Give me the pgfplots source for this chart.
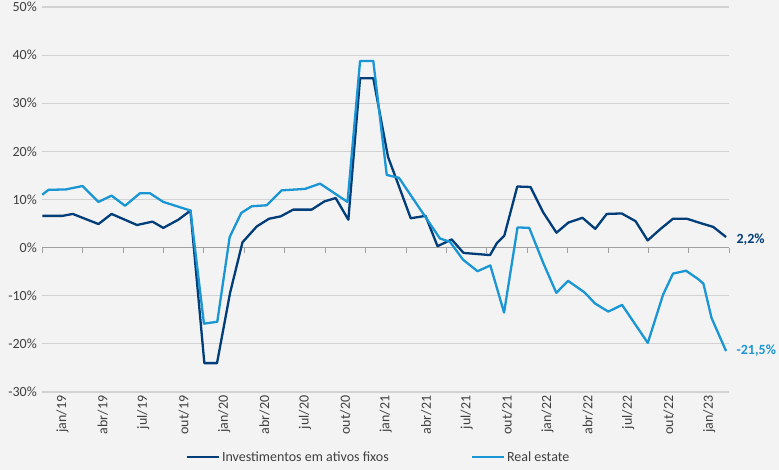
\documentclass[border=0pt]{standalone}
\usepackage{pgfplots}
\pgfplotsset{compat=1.18}
\usepackage{fontspec}
\setmainfont{Carlito}
\definecolor{bg}{HTML}{F3F3F3}
\definecolor{navy}{HTML}{003D79}
\definecolor{sky}{HTML}{1A96D4}
\definecolor{gridc}{HTML}{D2D2D2}
\definecolor{zeroc}{HTML}{A0A0A0}
\definecolor{txt}{HTML}{404040}
\newcommand\fs{\fontsize{14bp}{16bp}\selectfont}
\begin{document}
\begin{tikzpicture}
\fill[bg] (0,0) rectangle (779bp,470bp);
\useasboundingbox (0,0) rectangle (779bp,470bp);
% zero line with tick marks
\begin{axis}[
  at={(42.3bp,78bp)}, anchor=south west, scale only axis,
  width=687bp, height=385bp,
  xmin=0, xmax=51, ymin=-30, ymax=50,
  axis x line=middle, axis y line=none,
  xtick={0,3,...,51}, xticklabels={}, ytick=\empty,
  x axis line style={-, draw=zeroc, line width=1bp},
  xtick style={draw=zeroc, line width=1bp},
  xtick align=outside, major tick length=5bp,
]
\end{axis}
\begin{axis}[
  at={(42.3bp,78bp)}, anchor=south west, scale only axis,
  width=687bp, height=385bp,
  xmin=0, xmax=51, ymin=-30, ymax=50,
  axis x line*=bottom, axis y line*=left, axis line style={draw=none},
  xtick={0,3,...,51}, x tick label as interval,
  xticklabels={jan/19,abr/19,jul/19,out/19,jan/20,abr/20,jul/20,out/20,jan/21,abr/21,jul/21,out/21,jan/22,abr/22,jul/22,out/22,jan/23},
  xticklabel style={font=\fs, text=txt, rotate=90, anchor=east},
  xtick style={draw=none},
  ytick={-30,-20,-10,10,20,30,40,50},
  yticklabels={-30\%,-20\%,-10\%,10\%,20\%,30\%,40\%,50\%},
  extra y ticks={0}, extra y tick labels={0\%},
  extra y tick style={grid=none},
  yticklabel style={font=\fs, text=txt, xshift=-2bp},
  ytick style={draw=none},
  ymajorgrids, grid style={gridc, line width=1.1bp},
  legend style={at={(0.4894,-0.169)}, anchor=center, draw=none, fill=none,
    font=\fs, text=txt, legend columns=2,
    /tikz/every even column/.append style={column sep=80bp}},
  legend image code/.code={\draw[#1] (0bp,0bp) -- (32bp,0bp);},
  clip=false,
]
\addplot[navy, line width=2.3bp, line join=round] coordinates {
(0,6.6) (1.5,6.6) (2.26,7.0) (4.17,4.9) (5.14,7.0) (7.03,4.7) (8.18,5.4) (8.98,4.1) (10.1,5.8) (11.0,7.7)
(12.03,-24.0) (12.97,-24.0) (13.94,-9.4) (14.86,1.1) (15.92,4.4) (16.83,6.0) (17.7,6.5) (18.63,7.9) (20.0,7.9)
(20.94,9.6) (21.78,10.3) (22.72,5.8) (23.59,35.2) (24.57,35.2) (25.66,18.9) (26.43,13.1) (27.35,6.1) (28.45,6.6)
(29.34,0.3) (30.39,1.7) (31.27,-1.1) (33.24,-1.55) (33.76,1.0) (34.3,2.5) (35.26,12.7) (36.24,12.6) (37.19,7.3)
(38.17,3.1) (39.05,5.2) (40.1,6.2) (41.05,3.9) (41.9,7.0) (43.01,7.1) (44.04,5.5) (44.94,1.5) (45.86,3.8)
(46.82,6.0) (47.86,6.0) (48.86,5.1) (49.81,4.3) (50.76,2.2)
};
\addlegendentry{Investimentos em ativos fixos}
\addplot[sky, line width=2.3bp, line join=round] coordinates {
(0,11.0) (0.46,12.0) (1.76,12.1) (2.98,12.8) (4.17,9.5) (5.14,10.8) (6.14,8.7) (7.25,11.3) (7.99,11.3) (8.98,9.5)
(11.0,7.7) (12.0,-15.8) (12.99,-15.4) (13.91,2.2) (14.77,7.2) (15.55,8.6) (16.66,8.8) (17.77,11.9) (19.5,12.2)
(20.62,13.3) (22.66,9.5) (23.59,38.8) (24.57,38.8) (25.57,15.1) (26.48,14.5) (29.52,1.9) (30.27,1.2) (31.23,-2.5)
(32.31,-4.9) (33.26,-3.7) (34.28,-13.5) (35.28,4.2) (36.15,4.1) (37.19,-3.2) (38.16,-9.4) (39.03,-6.9)
(40.25,-9.3) (41.03,-11.6) (42.02,-13.3) (43.04,-11.9) (44.95,-19.8) (46.08,-9.8) (46.82,-5.4) (47.79,-4.8)
(48.72,-6.6) (49.08,-7.5) (49.68,-14.6) (50.76,-21.5)
};
\addlegendentry{Real estate}
\node[anchor=west, font=\fs\bfseries, text=navy, xshift=7bp, yshift=-3bp] at (axis cs:50.76,2.2) {2,2\%};
\node[anchor=west, font=\fs\bfseries, text=sky, xshift=7bp] at (axis cs:50.76,-21.5) {-21,5\%};
\end{axis}
\end{tikzpicture}
\end{document}
